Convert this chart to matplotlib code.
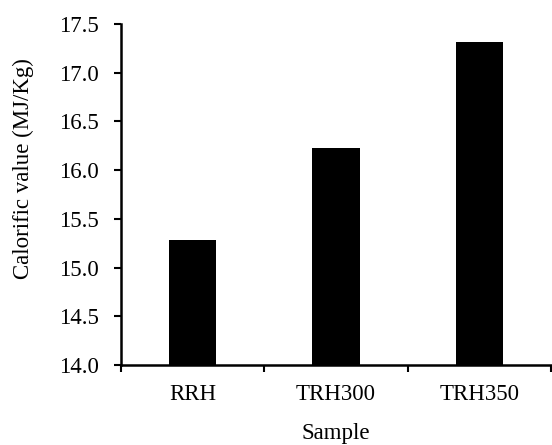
import matplotlib
matplotlib.use("Agg")
import matplotlib.pyplot as plt
import numpy as np

categories = ["RRH", "TRH300", "TRH350"]
values = [15.28, 16.23, 17.32]
yticks = [14.0, 14.5, 15.0, 15.5, 16.0, 16.5, 17.0, 17.5]

plt.rcParams['font.family'] = ['Liberation Serif', 'DejaVu Serif']
fig = plt.figure(figsize=(5.52, 4.45), dpi=100)
ax = fig.add_axes([121/552, 80/445, 430/552, 341/445])

x = np.arange(len(categories))
ax.bar(x, [v - 14.0 for v in values], bottom=14.0, width=0.33, color='black')

fs = 16.5
ax.set_xlim(-0.5, len(categories) - 0.5)
ax.set_ylim(14.0, 17.5)
ax.set_yticks(yticks)
ax.set_yticklabels([f"{t:.1f}" for t in yticks], fontsize=fs)
ax.set_xticks(np.arange(len(categories) + 1) - 0.5)
ax.set_xticklabels([])
ax.set_xticks(x, minor=True)
ax.set_xticklabels(categories, minor=True, fontsize=fs)
ax.tick_params(axis='x', which='minor', length=0, pad=14)
ax.tick_params(axis='both', which='major', length=5, width=1.5, direction='out')
ax.tick_params(axis='y', pad=11)

for s in ['top', 'right']:
    ax.spines[s].set_visible(False)
for s in ['left', 'bottom']:
    ax.spines[s].set_linewidth(1.8)

ax.set_xlabel("Sample", fontsize=fs, labelpad=13)
ax.set_ylabel("Calorific value (MJ/Kg)", fontsize=fs, labelpad=18)
ax.yaxis.set_label_coords(-0.202, 0.576)

fig.savefig("out.png", dpi=100)
